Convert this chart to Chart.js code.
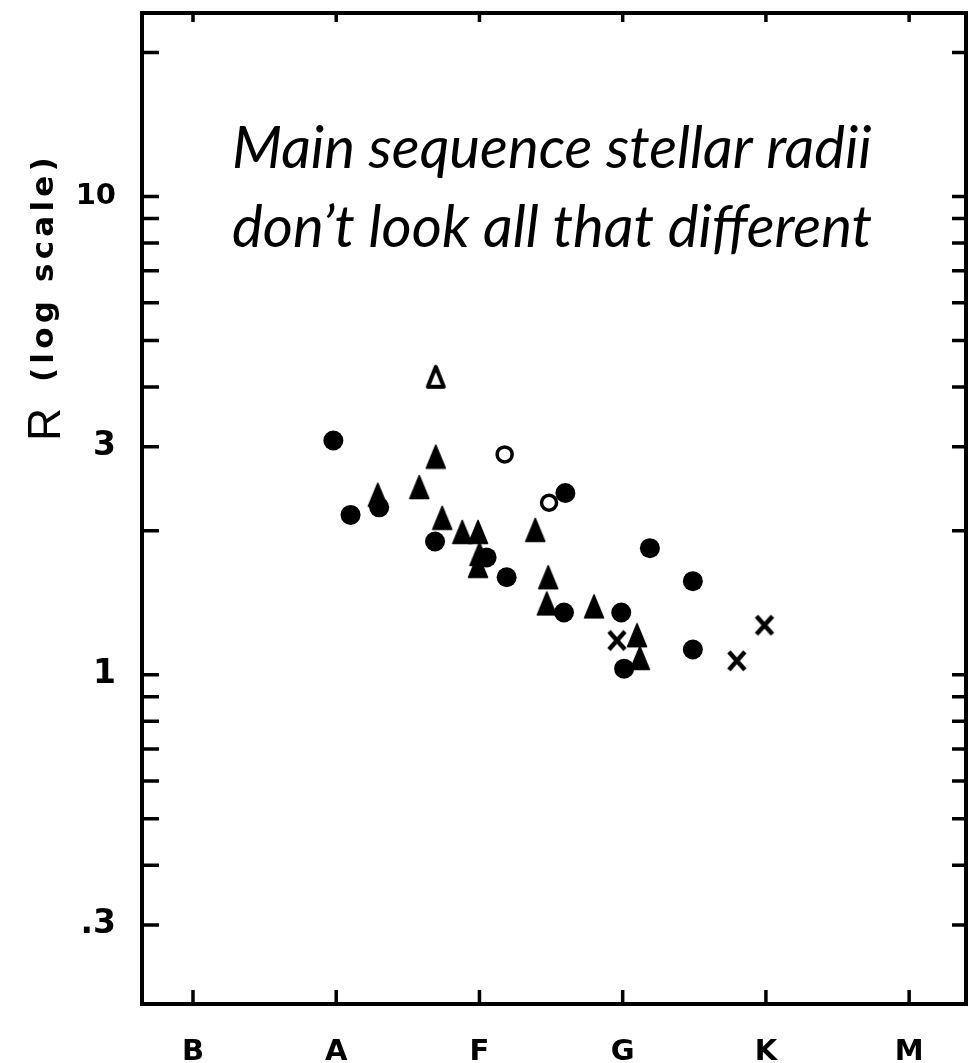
<!DOCTYPE html>
<html>
<head>
<meta charset="utf-8">
<script src="https://cdn.jsdelivr.net/npm/chart.js@4.4.1/dist/chart.umd.min.js"></script>
<style>
  html, body { margin: 0; padding: 0; background: #fff; }
  #wrap { width: 977px; height: 1063px; }
</style>
</head>
<body>
<div id="wrap"><canvas id="radii" width="977" height="1063"></canvas></div>
<script>
// spectral type on a running scale: B0 = 0, A0 = 10, F0 = 20, G0 = 30, K0 = 40, M0 = 50
const classNames = ["B", "A", "F", "G", "K", "M"];
const classTicks = [0, 10, 20, 30, 40, 50];

const radiusTicks = [0.3, 0.4, 0.5, 0.6, 0.7, 0.8, 0.9, 1, 2, 3, 4, 5, 6, 7, 8, 9, 10, 20];
const radiusLabels = { "0.3": ".3", "1": "1", "3": "3", "10": "10" };

// filled circles
const dotType = [9.8, 11.0, 13.0, 16.9, 20.5, 21.9, 26.0, 25.9, 29.9, 31.9, 34.9, 34.9, 30.1];
const dotR    = [3.09, 2.16, 2.24, 1.90, 1.76, 1.60, 2.40, 1.35, 1.35, 1.84, 1.57, 1.13, 1.03];

// filled triangles
const triType = [16.95, 15.8, 12.9, 17.4, 18.8, 19.9, 23.9, 20.0, 19.9, 24.8, 24.7, 28.0, 31.0, 31.2];
const triR    = [2.86, 2.47, 2.38, 2.13, 1.99, 1.99, 2.01, 1.79, 1.69, 1.60, 1.41, 1.39, 1.21, 1.085];

// open triangle
const openTriType = [16.95];
const openTriR    = [4.20];

// open circles
const ringType = [21.76, 24.86];
const ringR    = [2.89, 2.29];

// crosses
const crossType = [29.6, 37.97, 39.9];
const crossR    = [1.18, 1.07, 1.27];

const noteLines = ["Main sequence stellar radii", "don\u2019t look all that different"];

function pts(xs, ys) {
  return xs.map((v, i) => ({ x: v, y: ys[i] }));
}

function marker(w, h, draw) {
  const c = document.createElement("canvas");
  c.width = w;
  c.height = h;
  const g = c.getContext("2d");
  g.fillStyle = "#000";
  g.strokeStyle = "#000";
  draw(g);
  return c;
}

const solidTriangle = marker(22, 26, g => {
  g.beginPath();
  g.moveTo(11, 1.5);
  g.lineTo(20.5, 24.5);
  g.lineTo(1.5, 24.5);
  g.closePath();
  g.lineJoin = "round";
  g.lineWidth = 1.5;
  g.fill();
  g.stroke();
});

const hollowTriangle = marker(22, 26, g => {
  g.beginPath();
  g.moveTo(11, 3);
  g.lineTo(19, 23);
  g.lineTo(3, 23);
  g.closePath();
  g.fillStyle = "#fff";
  g.fill();
  g.lineWidth = 4;
  g.lineJoin = "round";
  g.stroke();
});

const xMark = marker(22, 24, g => {
  g.lineWidth = 4.5;
  g.beginPath();
  g.moveTo(3, 3);
  g.lineTo(19, 21);
  g.moveTo(19, 3);
  g.lineTo(3, 21);
  g.stroke();
});

// no extra room for half-height labels at the ends of an axis
function noEndPadding(s) {
  s.paddingTop = 0;
  s.paddingBottom = 0;
  s.paddingLeft = 0;
  s.paddingRight = 0;
}

const frame = {
  id: "frame",
  afterDraw(chart) {
    const { ctx, chartArea: a, scales: { x, y } } = chart;
    ctx.save();
    ctx.strokeStyle = "#000";
    ctx.lineWidth = 4;
    ctx.strokeRect(a.left, a.top, a.right - a.left, a.bottom - a.top);

    ctx.lineWidth = 3.5;
    ctx.beginPath();
    classTicks.forEach(v => {
      const px = x.getPixelForValue(v);
      ctx.moveTo(px, a.bottom);
      ctx.lineTo(px, a.bottom - 14);
      ctx.moveTo(px, a.top);
      ctx.lineTo(px, a.top + 9);
    });
    radiusTicks.forEach(v => {
      const py = y.getPixelForValue(v);
      ctx.moveTo(a.left, py);
      ctx.lineTo(a.left + 17, py);
      ctx.moveTo(a.right, py);
      ctx.lineTo(a.right - 14, py);
    });
    ctx.stroke();

    // axis title, turned to read upwards
    ctx.fillStyle = "#000";
    ctx.save();
    ctx.translate(60, 441);
    ctx.rotate(-Math.PI / 2);
    ctx.textAlign = "left";
    ctx.textBaseline = "alphabetic";
    ctx.font = "46px 'Liberation Sans'";
    ctx.fillText("R", 0, 0);
    ctx.translate(0, -7);
    ctx.font = "bold 31px 'DejaVu Sans'";
    ctx.letterSpacing = "4.2px";
    ctx.fillText("(log scale)", 59, 0);
    ctx.restore();

    // note in the upper part of the frame
    ctx.font = "italic 56px Lato";
    const fit = 640 / ctx.measureText(noteLines[0]).width;
    ctx.font = "italic " + (56 * fit).toFixed(1) + "px Lato";
    ctx.textAlign = "left";
    ctx.textBaseline = "alphabetic";
    ctx.fillText(noteLines[0], 232, 168);
    ctx.fillText(noteLines[1], 232, 247);
    ctx.restore();
  }
};

new Chart(document.getElementById("radii").getContext("2d"), {
  type: "scatter",
  data: {
    datasets: [
      {
        label: "open circles",
        data: pts(ringType, ringR),
        pointStyle: "circle",
        pointRadius: 7.5,
        pointBorderWidth: 3.5,
        pointBackgroundColor: "#fff",
        pointBorderColor: "#000",
        order: 0
      },
      {
        label: "crosses",
        data: pts(crossType, crossR),
        pointStyle: xMark,
        order: 1
      },
      {
        label: "filled triangles",
        data: pts(triType, triR),
        pointStyle: solidTriangle,
        order: 2
      },
      {
        label: "open triangle",
        data: pts(openTriType, openTriR),
        pointStyle: hollowTriangle,
        order: 3
      },
      {
        label: "filled circles",
        data: pts(dotType, dotR),
        pointStyle: "circle",
        pointRadius: 10,
        pointBorderWidth: 0,
        pointBackgroundColor: "#000",
        pointBorderColor: "#000",
        order: 4
      }
    ]
  },
  options: {
    responsive: false,
    animation: false,
    events: [],
    layout: { padding: { top: 13, right: 10, left: 0, bottom: 0 } },
    plugins: {
      legend: { display: false },
      tooltip: { enabled: false }
    },
    scales: {
      x: {
        type: "linear",
        min: -3.56,
        max: 53.97,
        bounds: "data",
        grid: { display: false, drawTicks: false },
        border: { display: false },
        afterFit: s => { s.height = 59; noEndPadding(s); },
        afterBuildTicks: s => { s.ticks = classTicks.map(v => ({ value: v })); },
        ticks: {
          color: "#000",
          padding: 31,
          maxRotation: 0,
          autoSkip: false,
          font: { family: "'DejaVu Sans'", size: 29, weight: "bold" },
          callback: v => classNames[classTicks.indexOf(v)] || ""
        }
      },
      y: {
        type: "logarithmic",
        min: 0.205,
        max: 24.2,
        bounds: "data",
        grid: { display: false, drawTicks: false },
        border: { display: false },
        afterFit: s => { s.width = 142; noEndPadding(s); },
        afterBuildTicks: s => { s.ticks = radiusTicks.map(v => ({ value: v })); },
        ticks: {
          color: "#000",
          padding: 26,
          autoSkip: false,
          font: ctx => ({
            family: "'DejaVu Sans'",
            weight: "bold",
            size: ctx.tick && ctx.tick.value === 10 ? 29 : 33
          }),
          callback: v => radiusLabels[String(v)] || ""
        }
      }
    }
  },
  plugins: [frame]
});
</script>
</body>
</html>
